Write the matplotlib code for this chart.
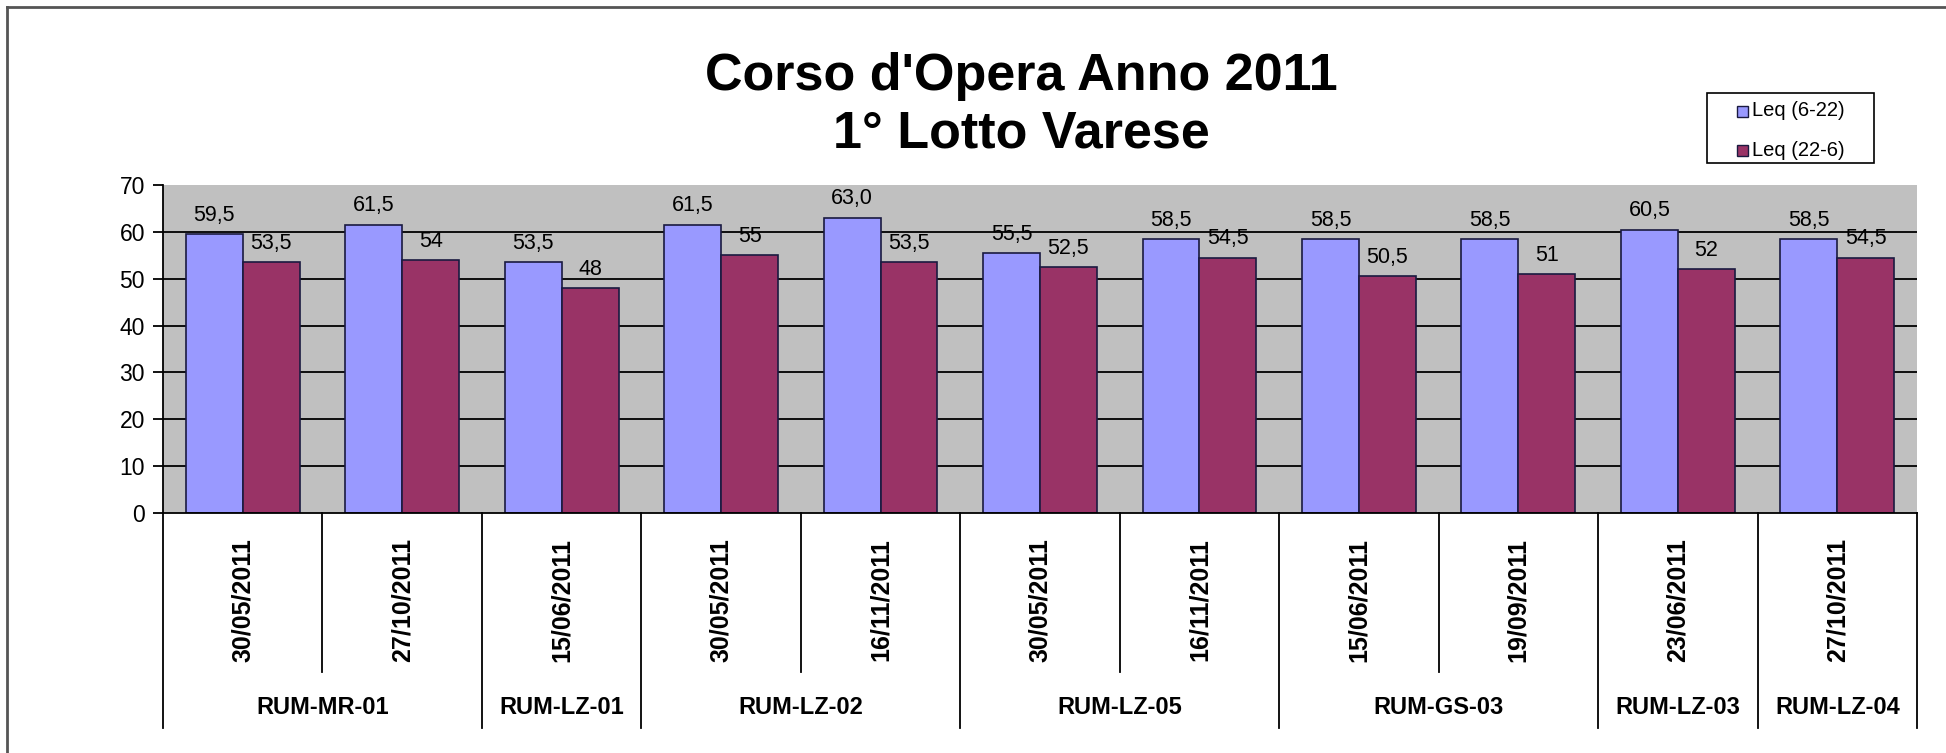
import numpy as np
import matplotlib
matplotlib.use("Agg")
import matplotlib.pyplot as plt
from matplotlib.lines import Line2D
from matplotlib.patches import Rectangle
import matplotlib.transforms as mtransforms


# Data

dates = ["30/05/2011", "27/10/2011", "15/06/2011", "30/05/2011", "16/11/2011",
         "30/05/2011", "16/11/2011", "15/06/2011", "19/09/2011", "23/06/2011",
         "27/10/2011"]
groups = ["RUM-MR-01", "RUM-LZ-01", "RUM-LZ-02", "RUM-LZ-05",
          "RUM-GS-03", "RUM-LZ-03", "RUM-LZ-04"]
group_sizes = [2, 1, 2, 2, 2, 1, 1]

leq_day = [59.5, 61.5, 53.5, 61.5, 63.0, 55.5, 58.5, 58.5, 58.5, 60.5, 58.5]
leq_night = [53.5, 54, 48, 55, 53.5, 52.5, 54.5, 50.5, 51, 52, 54.5]
labels_day = ["59,5", "61,5", "53,5", "61,5", "63,0", "55,5", "58,5",
              "58,5", "58,5", "60,5", "58,5"]
labels_night = ["53,5", "54", "48", "55", "53,5", "52,5", "54,5",
                "50,5", "51", "52", "54,5"]

series_names = ["Leq (6-22)", "Leq (22-6)"]
series_colors = ["#9999FF", "#993366"]
yticks = [0, 10, 20, 30, 40, 50, 60, 70]


plt.rcParams["font.family"] = ["Liberation Sans", "DejaVu Sans"]

W, H = 1946, 753
fig = plt.figure(figsize=(W / 100, H / 100), dpi=100)
ax = fig.add_axes([163 / W, 1 - 513 / H, 1754 / W, 328 / H])
ax.set_facecolor("#C0C0C0")

x = np.arange(len(dates))
w = 0.357

# gridlines behind bars (no line at the top)
for t in yticks[1:-1]:
    ax.axhline(t, color="black", lw=1.3, zorder=1)

b1 = ax.bar(x - w / 2, leq_day, w, color=series_colors[0], edgecolor="#1a1a40",
            lw=1.2, zorder=2, label=series_names[0])
b2 = ax.bar(x + w / 2, leq_night, w, color=series_colors[1], edgecolor="#1a1a40",
            lw=1.2, zorder=2, label=series_names[1])

# value labels above bars
for xi, v, s in zip(x - w / 2, leq_day, labels_day):
    ax.annotate(s, (xi, v), xytext=(0, 6), textcoords="offset points",
                ha="center", va="bottom", fontsize=15.5)
for xi, v, s in zip(x + w / 2, leq_night, labels_night):
    ax.annotate(s, (xi, v), xytext=(0, 6), textcoords="offset points",
                ha="center", va="bottom", fontsize=15.5)

ax.set_xlim(-0.5, len(dates) - 0.5)
ax.set_ylim(0, 70)
ax.set_yticks(yticks)
ax.tick_params(axis="y", labelsize=16.5, length=7, width=1.3, direction="out",
               pad=6)
ax.set_xticks([])

for side in ["top", "right"]:
    ax.spines[side].set_visible(False)
ax.spines["left"].set_linewidth(1.3)
ax.spines["bottom"].set_linewidth(1.3)


# Two-level category axis (dates + station groups)

trans = mtransforms.blended_transform_factory(ax.transData, ax.transAxes)
y_inner = -(672 - 513) / 328
y_outer = -(728 - 513) / 328

for xi, d in zip(x, dates):
    ax.text(xi, -(600 - 513) / 328, d, rotation=90, ha="center", va="center",
            fontsize=18, fontweight="bold", transform=trans)

bounds = np.concatenate([[0], np.cumsum(group_sizes)])
group_edges = set(bounds.tolist())
for k in range(len(dates) + 1):
    bottom = y_outer if k in group_edges else y_inner
    ax.plot([k - 0.5, k - 0.5], [0, bottom], color="black", lw=1.3,
            transform=trans, clip_on=False)

for g, start, n in zip(groups, bounds[:-1], group_sizes):
    ax.text(start - 0.5 + n / 2, -(708 - 513) / 328, g, ha="center",
            va="center", fontsize=17, fontweight="bold", transform=trans)


# Title

fig.text(1021 / W, 1 - 90 / H, "Corso d'Opera Anno 2011", ha="center",
         va="baseline", fontsize=37.5, fontweight="bold")
fig.text(1021 / W, 1 - 148 / H, "1° Lotto Varese", ha="center",
         va="baseline", fontsize=37.5, fontweight="bold")


# Legend box drawn Excel-style (wide side padding)

fig.add_artist(Rectangle((1707 / W, 1 - 163 / H), 167 / W, 70 / H,
                         transform=fig.transFigure, facecolor="white",
                         edgecolor="black", lw=1.2))
for name, col, yc in zip(series_names, series_colors, [111, 150]):
    fig.add_artist(Rectangle((1737 / W, 1 - (yc + 5.5) / H), 11 / W, 11 / H,
                             transform=fig.transFigure, facecolor=col,
                             edgecolor="#1a1a40", lw=1.0))
    fig.text(1752 / W, 1 - yc / H, name, ha="left", va="center", fontsize=14.5)

# outer chart frame (only top and left edges visible in the screenshot)
fig.add_artist(Line2D([7 / W, 7 / W], [0, 1 - 7 / H],
                      transform=fig.transFigure, color="#555555", lw=2))
fig.add_artist(Line2D([7 / W, 1], [1 - 7 / H, 1 - 7 / H],
                      transform=fig.transFigure, color="#555555", lw=2))

fig.savefig("out.png", dpi=100, facecolor="white")
